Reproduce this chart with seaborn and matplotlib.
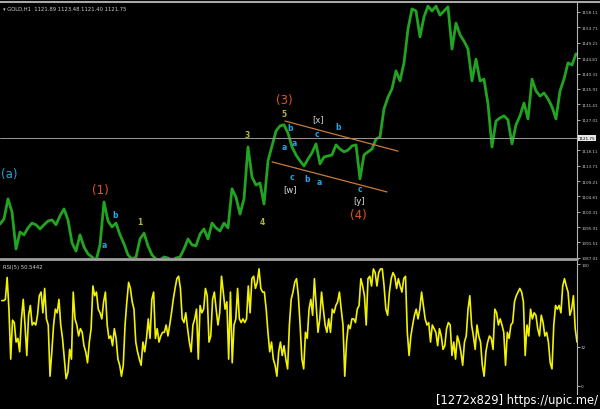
import numpy as np
import pandas as pd
import seaborn as sns
import matplotlib.pyplot as plt
import matplotlib.transforms as mtransforms

# GOLD H1 close prices (one value per bar)
price = [
    1096.8, 1098.3, 1104.1, 1100.3, 1089.6, 1094.5, 1093.7, 1095.7, 1097.1, 1096.6,
    1095.4, 1096.6, 1097.7, 1098.0, 1096.6, 1099.2, 1101.2, 1098.0, 1091.4, 1089.0,
    1093.7, 1090.2, 1088.2, 1087.3, 1086.2, 1090.8, 1103.2, 1097.7, 1096.0, 1097.1,
    1093.7, 1091.1, 1087.9, 1086.7, 1087.3, 1092.5, 1094.2, 1090.5, 1087.9, 1086.7,
    1086.4, 1087.3, 1087.0, 1086.4, 1087.0, 1087.3, 1089.6, 1092.5, 1090.8, 1090.5,
    1093.9, 1095.4, 1092.5, 1097.1, 1095.7, 1094.8, 1097.1, 1095.7, 1107.0, 1104.6,
    1099.7, 1104.1, 1119.1, 1110.4, 1108.1, 1108.7, 1102.6, 1115.1, 1119.4, 1123.7,
    1125.2, 1125.5, 1123.1, 1119.1, 1116.8, 1115.1, 1113.6, 1115.6, 1117.4, 1120.0,
    1114.2, 1116.2, 1116.5, 1116.8, 1119.7, 1118.5, 1117.7, 1118.2, 1119.4, 1119.7,
    1109.9, 1116.8, 1117.7, 1118.5, 1121.4, 1122.0, 1130.1, 1133.5, 1135.9, 1141.1,
    1138.2, 1143.4, 1153.2, 1159.0, 1158.4, 1150.9, 1156.7, 1159.8, 1158.4, 1159.8,
    1157.2, 1158.4, 1159.6, 1147.4, 1154.9, 1151.5, 1149.7, 1147.4, 1138.2, 1144.5,
    1138.2, 1138.7, 1131.5, 1119.1, 1126.6, 1127.5, 1128.1, 1126.9, 1120.0, 1125.5,
    1128.1, 1131.8, 1127.2, 1138.7, 1135.3, 1133.8, 1134.7, 1133.0, 1130.7, 1127.2,
    1135.3, 1138.7, 1143.4, 1142.8, 1146.0,
]

# RSI(5) values
rsi = [
    70, 70, 71, 89, 63, 22, 54, 52, 36, 39, 28, 55, 71, 50, 25, 58, 66, 50, 52, 50,
    58, 74, 77, 60, 80, 55, 50, 8, 28, 50, 63, 60, 71, 50, 39, 22, 6, 11, 30, 22,
    77, 55, 50, 41, 47, 44, 33, 28, 19, 36, 47, 82, 74, 77, 63, 60, 55, 69, 77, 50,
    39, 41, 33, 47, 39, 22, 17, 8, 17, 50, 69, 85, 80, 69, 63, 36, 28, 22, 17, 36,
    28, 39, 55, 39, 71, 77, 39, 47, 36, 41, 44, 44, 50, 41, 50, 60, 71, 80, 88, 90,
    80, 55, 52, 60, 47, 36, 28, 50, 55, 63, 22, 66, 60, 63, 80, 74, 36, 41, 71, 77,
    63, 50, 60, 90, 77, 63, 69, 22, 77, 19, 50, 55, 80, 55, 52, 55, 52, 55, 82, 60,
    88, 90, 80, 85, 96, 80, 77, 77, 63, 44, 28, 36,
    22, 17, 8, 28, 36, 25, 33, 22, 14, 50, 71, 77, 85, 88, 74, 50, 22, 14, 44, 39,
    63, 71, 58, 88, 66, 44, 55, 77, 63, 50, 44, 55, 44, 63, 60, 66, 69, 77, 63, 50,
    8, 36, 50, 47, 55, 55, 52, 63, 66, 88, 82, 74, 50, 88, 90, 82, 96, 93, 82, 93,
    96, 96, 82, 63, 58, 77, 88, 93, 90, 80, 88, 82, 77, 88, 90, 44, 25, 41, 50, 58,
    63, 55, 63, 77, 66, 55, 50, 52, 36, 50, 47, 44, 33, 47, 41, 30, 33, 47, 52, 50,
    25, 36, 22, 41, 36, 28, 17, 36, 41, 63, 74, 50, 41, 30, 50, 41, 36, 17, 8, 28,
    36, 41, 39, 30, 63, 60, 50, 55, 50, 44, 17, 44, 39, 50, 52, 69, 74, 77, 80, 77,
    69, 25, 50, 41, 63, 55, 60, 58, 47, 41, 58, 52, 41, 44, 36, 19, 14, 50, 66, 63,
    66, 60, 82, 88, 82, 77, 58, 63, 74, 47, 36,
]

price_ticks = [1158.11, 1153.71, 1149.21, 1144.81, 1140.31, 1135.91, 1131.41, 1127.01,
               1118.11, 1113.71, 1109.21, 1104.81, 1100.31, 1095.91, 1091.51, 1087.01]
rsi_ticks = [100, 32, 0]
last_price = 1121.75

# Elliott wave labels: (bar, price, text, kind)
waves = [
    (2.25, 1111.3, "(a)", "blue_big"), (25, 1106.7, "(1)", "red"),
    (28.75, 1099.5, "b", "blue"), (26, 1090.8, "a", "blue"), (35, 1097.7, "1", "num"),
    (61.75, 1122.6, "3", "num"), (65.5, 1097.7, "4", "num"),
    (71, 1132.7, "(3)", "red"), (71, 1128.9, "5", "num"),
    (72.5, 1124.6, "b", "blue"), (71, 1119.1, "a", "blue"), (73.5, 1120.3, "a", "blue"),
    (79.5, 1127.2, "[x]", "white"), (79.25, 1122.9, "c", "blue"), (84.5, 1124.9, "b", "blue"),
    (73, 1110.7, "c", "blue"), (76.75, 1109.9, "b", "blue"), (79.75, 1109.0, "a", "blue"),
    (72.5, 1107.0, "[w]", "white"), (90, 1107.0, "c", "blue"),
    (89.75, 1103.5, "[y]", "white"), (89.5, 1099.5, "(4)", "red"),
]
channel_upper = ([71.25, 99.5], [1126.6, 1117.9])
channel_lower = ([68, 96.75], [1114.8, 1106.1])

styles = {
    "blue_big": dict(color="#2a9fd8", fontsize=8.5),
    "red": dict(color="#e8521f", fontsize=8.5),
    "blue": dict(color="#23a8e6", fontsize=5.5, fontweight="bold"),
    "num": dict(color="#b4b43a", fontsize=5.5, fontweight="bold"),
    "white": dict(color="#dcdcdc", fontsize=6),
}

sns.set_theme(style="dark", rc={"axes.facecolor": "black", "figure.facecolor": "black"})
plt.rcParams["font.family"] = ["DejaVu Sans"]

fig = plt.figure(figsize=(6, 4.1), dpi=100)
ax1 = fig.add_axes([0, 1 - 259 / 410, 577 / 600, 255 / 410])
ax2 = fig.add_axes([0, 1 - 395 / 410, 577 / 600, 133 / 410])

df_p = pd.DataFrame({"bar": np.arange(len(price)), "price": price})
df_r = pd.DataFrame({"bar": np.arange(len(rsi)), "rsi": rsi})

sns.lineplot(data=df_p, x="bar", y="price", ax=ax1, color="#22a322", lw=2.0)
sns.lineplot(data=df_r, x="bar", y="rsi", ax=ax2, color="#f2f200", lw=1.2)

ax1.axhline(last_price, color="#9a9a9a", lw=0.7)
ax1.plot(*channel_upper, color="#c47c3c", lw=0.9)
ax1.plot(*channel_lower, color="#c47c3c", lw=0.9)
for bx, py, txt, kind in waves:
    ax1.text(bx, py, txt, ha="center", va="center", **styles[kind])

ax1.set_xlim(0, 577 / 4)
ax1.set_ylim(1087.02, 1160.71)
ax2.set_xlim(-1, len(rsi) - 1)
ax2.set_ylim(-6.6, 102.5)

for ax, ticks in ((ax1, price_ticks), (ax2, rsi_ticks)):
    ax.set_xlabel("")
    ax.set_ylabel("")
    ax.set_xticks([])
    ax.yaxis.tick_right()
    ax.set_yticks(ticks)
    ax.set_yticklabels([f"{t:.2f}" if ax is ax1 else str(t) for t in ticks])
    ax.tick_params(axis="y", colors="#c8c8c8", labelsize=3.0, length=2.0, width=0.6,
                   pad=1.0, right=True, labelright=True)
    ax.grid(False)
    for side in ("top", "left", "bottom"):
        ax.spines[side].set_visible(False)
    ax.spines["right"].set_color("#b4b4b4")
    ax.spines["right"].set_linewidth(0.8)

# current price marker on the axis
blend = mtransforms.blended_transform_factory(ax1.transAxes, ax1.transData)
ax1.text(1.003, last_price, f"{last_price:.2f}", transform=blend, ha="left", va="center",
         fontsize=3.0, color="black",
         bbox=dict(boxstyle="square,pad=0.2", fc="#e8e8e8", ec="none"))

# window borders / headers
fig.add_artist(plt.Line2D([0, 1], [1 - 2.5 / 410] * 2, color="#a8a8a8", lw=1.5))
fig.add_artist(plt.Line2D([0, 577 / 600], [1 - 260 / 410] * 2, color="#a0a0a0", lw=2))
fig.text(3 / 600, 1 - 9 / 410, "\u25be GOLD,H1  1121.89 1123.48 1121.40 1121.75",
         color="#d0d0d0", fontsize=3.8, va="center")
fig.text(3 / 600, 1 - 268 / 410, "RSI(5) 50.5442", color="#d0d0d0", fontsize=3.8, va="center")
fig.text(598 / 600, 1 - 401 / 410, "[1272x829] https://upic.me/", color="white",
         fontsize=8.3, ha="right", va="center")

fig.savefig("out.png", dpi=100, facecolor="black")
